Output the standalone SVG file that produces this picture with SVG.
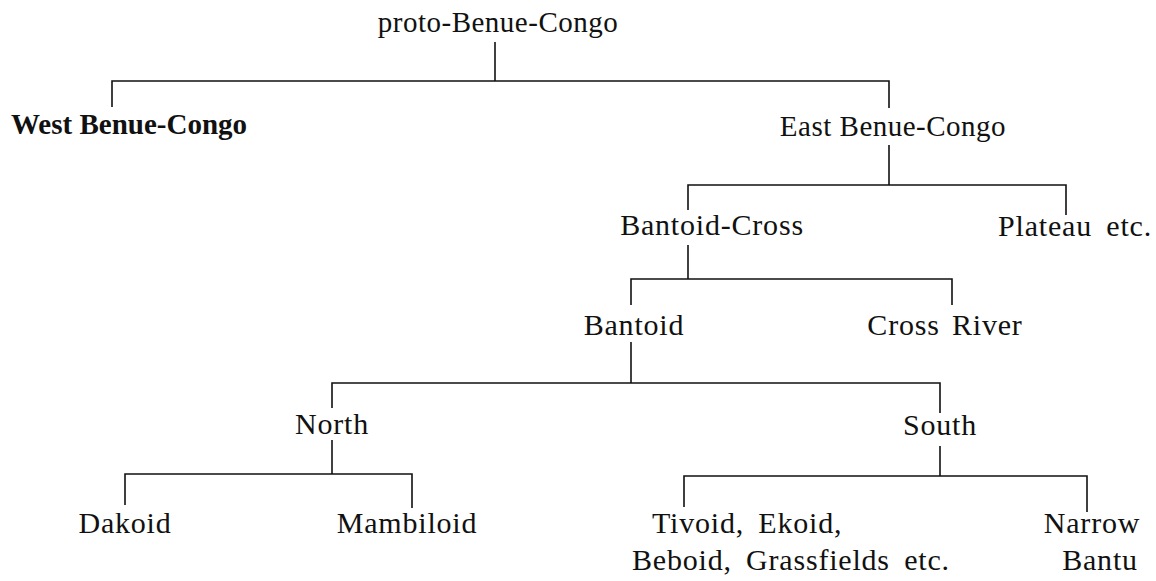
<svg xmlns="http://www.w3.org/2000/svg" width="1156" height="581" viewBox="0 0 1156 581">
<style>
.t{font-family:"Liberation Serif","Times New Roman",serif;font-size:30px;fill:#111;text-anchor:middle;letter-spacing:0.8px}
.s{font-size:29px;letter-spacing:0.5px}
.l{text-anchor:start}
.b{font-weight:bold;letter-spacing:0}
.c path{stroke:#111;stroke-width:1.6;fill:none}
</style>
<rect width="1156" height="581" fill="#fff"/>
<g class="c" id="connectors">
<path d="M495 42V81"/>
<path d="M112 107V81H889V108"/>
<path d="M889 145V185"/>
<path d="M688 210V185H1066V215"/>
<path d="M688 245V279"/>
<path d="M631 305V279H952V305"/>
<path d="M631 342V383"/>
<path d="M332 408V383H940V413"/>
<path d="M332 440V474"/>
<path d="M125 505V474H412V508"/>
<path d="M940 446V476"/>
<path d="M684 507V476H1087V512"/>
</g>
<g id="n-proto"><text class="t s" x="498" y="32">proto-Benue-Congo</text></g>
<g id="n-west"><text class="t s b" x="129" y="134">West Benue-Congo</text></g>
<g id="n-east"><text class="t s" x="893" y="136">East Benue-Congo</text></g>
<g id="n-bantoidcross"><text class="t" x="712" y="235">Bantoid-Cross</text></g>
<g id="n-plateau"><text class="t" x="1075" y="236" word-spacing="6">Plateau etc.</text></g>
<g id="n-bantoid"><text class="t" x="634" y="335">Bantoid</text></g>
<g id="n-cross"><text class="t" x="945" y="335" word-spacing="4">Cross River</text></g>
<g id="n-north"><text class="t" x="332" y="434">North</text></g>
<g id="n-south"><text class="t" x="940" y="435">South</text></g>
<g id="n-dakoid"><text class="t" x="125" y="533">Dakoid</text></g>
<g id="n-mambiloid"><text class="t" x="407" y="533">Mambiloid</text></g>
<g id="n-tivoid"><text class="t l" y="533"><tspan x="652" word-spacing="6">Tivoid, Ekoid,</tspan><tspan x="632" y="570" word-spacing="6">Beboid, Grassfields etc.</tspan></text></g>
<g id="n-narrow"><text class="t" y="533"><tspan x="1092">Narrow</tspan><tspan x="1100" y="570">Bantu</tspan></text></g>
</svg>
